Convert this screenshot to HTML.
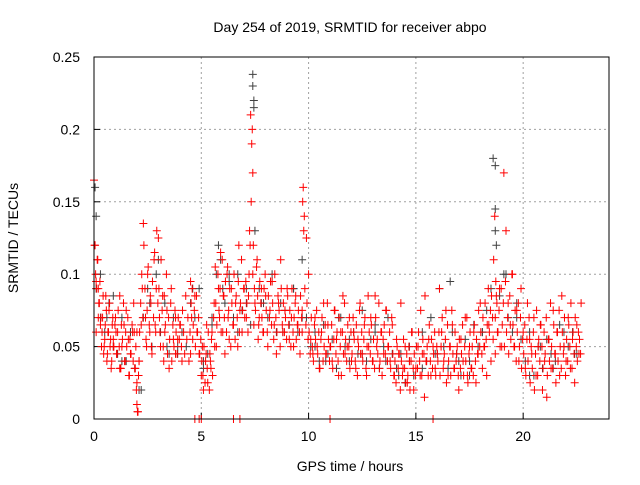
<!DOCTYPE html>
<html><head><meta charset="utf-8"><style>
body{margin:0;background:#fff}
svg text{font-family:"Liberation Sans",sans-serif;font-size:14px;fill:#000}
</style></head><body>
<svg id="chart" width="640" height="480" xmlns="http://www.w3.org/2000/svg">
<text x="350" y="32" text-anchor="middle">Day 254 of 2019, SRMTID for receiver abpo</text>
<text x="350" y="471" text-anchor="middle">GPS time / hours</text>
<text transform="translate(18,238) rotate(-90)" text-anchor="middle">SRMTID / TECUs</text>
<g id="grid"></g><g id="ticks"></g><g id="marks"></g>
<rect x="94" y="57" width="515" height="362" fill="none" stroke="#000" stroke-width="1"/>
</svg>
<script>
const xTicks=[0,5,10,15,20];
const yTicks=[0,0.05,0.1,0.15,0.2,0.25];
const yTickLabels=["0","0.05","0.1","0.15","0.2","0.25"];
const redTimes=[0,0.05,0.1,0.1,0.15,0.2,0.2,0.25,0.3,0.35,0.4,0.45,0.5,0.55,0.6,0.65,0.7,0.75,0.8,0.85,0.9,1.0,1.05,1.1,1.2,1.25,1.3,1.4,1.45,1.5,1.6,1.65,1.7,1.8,1.85,1.9,1.95,2.0,2.0,2.05,2.1,2.2,2.25,2.3,2.4,2.45,2.5,2.6,2.65,2.7,2.8,2.85,2.9,3.0,3.05,3.1,3.2,3.25,3.3,3.4,3.5,3.6,3.7,3.8,4.0,4.1,4.5,4.55,4.6,4.7,4.8,4.9,5.0,5.05,5.1,5.2,5.25,5.3,5.4,5.45,5.5,5.6,5.65,5.7,5.8,5.85,5.9,6.0,6.05,6.1,6.2,6.25,6.3,6.4,6.5,6.6,6.7,6.75,6.8,6.9,7.0,7.1,7.2,7.25,7.3,7.35,7.4,7.4,7.45,7.5,7.6,7.65,7.7,7.8,7.9,8.0,8.1,8.2,8.3,8.4,8.5,8.6,8.7,8.8,8.9,9.0,9.1,9.2,9.3,9.4,9.5,9.6,9.7,9.7,9.75,9.8,9.9,10.0,10.1,10.2,10.3,10.4,10.5,10.6,10.7,10.8,10.9,11.0,11.1,11.2,11.3,11.4,11.5,11.6,11.7,11.8,11.9,12.0,12.1,12.2,12.3,12.4,12.5,12.6,12.7,12.8,12.9,13.0,13.1,13.2,13.3,13.4,13.5,13.6,13.7,13.8,13.9,14.0,14.1,14.2,14.3,14.4,14.5,14.6,14.7,14.8,14.9,15.0,15.1,15.2,15.3,15.4,15.5,15.6,15.7,15.8,15.9,16.0,16.1,16.2,16.3,16.4,16.5,16.6,16.7,16.8,16.9,17.0,17.1,17.2,17.3,17.4,17.5,17.6,17.7,17.8,17.9,18.0,18.1,18.2,18.3,18.4,18.5,18.6,18.7,18.7,18.75,18.8,18.9,19.0,19.1,19.2,19.3,19.4,19.5,19.6,19.7,19.8,19.9,20.0,20.1,20.2,20.3,20.4,20.5,20.6,20.7,20.8,20.9,21.0,21.1,21.2,21.3,21.4,21.5,21.6,21.7,21.8,21.9,22.0,22.1,22.2,22.3,22.4,22.5,22.6,22.7,
0.9,1.2,2.0,2.1,3.8,3.9,4.5,4.7,4.9,5.0,6.5,6.8,11.0,15.8];
const redValues=[0.165,0.12,0.095,0.06,0.11,0.09,0.07,0.08,0.065,0.05,0.07,0.045,0.055,0.085,0.04,0.06,0.075,0.05,0.035,0.065,0.055,0.07,0.045,0.06,0.085,0.035,0.05,0.065,0.04,0.075,0.055,0.03,0.045,0.06,0.08,0.035,0.05,0.01,0.025,0.005,0.04,0.065,0.09,0.135,0.07,0.05,0.1,0.06,0.08,0.045,0.11,0.065,0.09,0.125,0.07,0.05,0.085,0.04,0.06,0.075,0.035,0.09,0.055,0.045,0.065,0.04,0.095,0.07,0.055,0.085,0.06,0.045,0.03,0.05,0.02,0.04,0.065,0.025,0.045,0.035,0.06,0.08,0.105,0.05,0.09,0.07,0.115,0.06,0.085,0.045,0.1,0.07,0.055,0.09,0.065,0.08,0.05,0.12,0.075,0.06,0.09,0.07,0.085,0.13,0.21,0.19,0.17,0.1,0.065,0.08,0.11,0.055,0.07,0.09,0.06,0.085,0.05,0.075,0.095,0.065,0.045,0.08,0.11,0.06,0.075,0.09,0.055,0.07,0.05,0.085,0.065,0.045,0.075,0.06,0.16,0.14,0.125,0.1,0.055,0.045,0.07,0.05,0.035,0.06,0.08,0.045,0.065,0.05,0.04,0.075,0.055,0.03,0.06,0.085,0.045,0.05,0.07,0.04,0.06,0.035,0.055,0.08,0.045,0.065,0.03,0.05,0.07,0.04,0.085,0.055,0.035,0.06,0.045,0.075,0.05,0.04,0.065,0.03,0.055,0.045,0.08,0.035,0.05,0.025,0.04,0.06,0.02,0.035,0.05,0.03,0.045,0.015,0.04,0.055,0.03,0.05,0.035,0.045,0.09,0.06,0.04,0.075,0.03,0.05,0.065,0.035,0.045,0.02,0.055,0.04,0.07,0.03,0.05,0.035,0.06,0.025,0.045,0.08,0.035,0.05,0.03,0.065,0.04,0.055,0.07,0.045,0.085,0.06,0.09,0.05,0.17,0.13,0.08,0.065,0.1,0.05,0.075,0.04,0.09,0.06,0.035,0.08,0.055,0.045,0.07,0.03,0.05,0.065,0.02,0.04,0.015,0.055,0.035,0.075,0.045,0.06,0.03,0.085,0.05,0.04,0.07,0.035,0.055,0.025,0.065,0.045,0.08,0.05,0.035,0.06,0.04,0.07,0.055,0.045,
0,0,0,0,0,0,0,0,0,0,0,0,0,0];
// second, denser red batch sampled every 0.05 h from 0.025 h
const red2Start=0.025, red2Step=0.05;
const red2Values=[
0.12,0.1,0.09,0.11,0.08,0.095,0.07,0.06,0.085,0.05,0.065,0.075,0.045,0.06,0.08,0.055,0.04,0.07,0.05,0.065,
0.06,0.045,0.075,0.05,0.035,0.065,0.055,0.08,0.04,0.06,0.05,0.07,0.03,0.055,0.045,0.065,0.04,0.06,0.035,0.02,
0.005,0.03,0.06,0.08,0.1,0.07,0.12,0.09,0.055,0.075,0.105,0.065,0.085,0.05,0.095,0.07,0.115,0.06,0.13,0.08,
0.09,0.06,0.11,0.075,0.05,0.085,0.065,0.1,0.045,0.07,0.055,0.08,0.04,0.065,0.05,0.075,0.06,0.045,0.07,0.055,
0.065,0.05,0.075,0.06,0.045,0.085,0.055,0.07,0.04,0.06,0.08,0.09,0.065,0.075,0.05,0.085,0.06,0.07,0.045,0.055,
0.04,0.03,0.05,0.025,0.045,0.035,0.06,0.02,0.04,0.055,0.03,0.07,0.05,0.08,0.065,0.1,0.075,0.09,0.06,0.11,
0.085,0.07,0.095,0.06,0.105,0.075,0.09,0.05,0.08,0.065,0.1,0.055,0.085,0.07,0.095,0.06,0.08,0.11,0.075,0.09,
0.07,0.095,0.08,0.06,0.1,0.12,0.15,0.2,0.12,0.09,0.075,0.105,0.085,0.065,0.095,0.08,0.07,0.06,0.09,0.1,
0.075,0.06,0.085,0.07,0.095,0.065,0.08,0.055,0.1,0.07,0.06,0.085,0.075,0.05,0.09,0.065,0.08,0.06,0.07,0.055,
0.085,0.065,0.075,0.05,0.09,0.06,0.07,0.08,0.055,0.065,0.075,0.06,0.085,0.07,0.15,0.13,0.09,0.065,0.08,0.055,
0.06,0.045,0.07,0.05,0.04,0.065,0.055,0.075,0.045,0.06,0.035,0.055,0.07,0.04,0.05,0.065,0.045,0.08,0.055,0.04,
0.05,0.065,0.035,0.055,0.075,0.045,0.06,0.04,0.07,0.05,0.03,0.06,0.045,0.08,0.055,0.04,0.065,0.05,0.035,0.06,
0.045,0.07,0.055,0.04,0.065,0.03,0.05,0.075,0.045,0.06,0.04,0.055,0.07,0.035,0.05,0.085,0.06,0.045,0.065,0.04,
0.055,0.035,0.07,0.05,0.045,0.08,0.04,0.06,0.03,0.055,0.065,0.045,0.075,0.04,0.05,0.06,0.035,0.07,0.045,0.03,
0.04,0.025,0.05,0.035,0.045,0.02,0.04,0.03,0.055,0.035,0.025,0.045,0.03,0.05,0.02,0.04,0.06,0.035,0.045,0.03,
0.05,0.035,0.06,0.04,0.075,0.03,0.055,0.045,0.085,0.04,0.05,0.03,0.065,0.04,0.055,0.035,0.045,0.06,0.03,0.05,
0.04,0.06,0.03,0.05,0.07,0.035,0.045,0.055,0.025,0.065,0.04,0.05,0.03,0.075,0.045,0.035,0.06,0.04,0.05,0.03,
0.055,0.035,0.045,0.065,0.03,0.05,0.04,0.07,0.025,0.045,0.06,0.035,0.05,0.03,0.065,0.04,0.055,0.045,0.075,0.05,
0.06,0.045,0.07,0.05,0.08,0.055,0.065,0.09,0.06,0.075,0.085,0.07,0.11,0.14,0.095,0.08,0.06,0.075,0.05,0.09,
0.065,0.08,0.05,0.095,0.06,0.07,0.045,0.085,0.055,0.1,0.065,0.05,0.075,0.04,0.06,0.08,0.05,0.07,0.035,0.055,
0.045,0.065,0.03,0.055,0.04,0.07,0.025,0.05,0.035,0.06,0.02,0.045,0.075,0.03,0.055,0.04,0.065,0.05,0.035,0.06,
0.045,0.07,0.03,0.055,0.04,0.08,0.05,0.035,0.065,0.045,0.025,0.06,0.04,0.075,0.05,0.035,0.06,0.045,0.07,0.03,
0.055,0.04,0.065,0.05,0.08,0.035,0.06,0.045,0.07,0.05,0.04,0.06,0.055,0.045];
const grayTimes=[0.05,0.1,0.3,0.6,0.9,1.3,1.7,2.2,2.6,3.0,3.4,3.9,4.6,5.1,5.5,5.8,6.0,6.3,6.7,7.1,7.4,7.4,7.45,7.45,7.8,8.3,8.8,9.3,9.7,10.3,10.8,11.4,11.9,12.5,13.1,13.6,14.2,14.7,15.3,16.0,16.6,17.0,17.5,18.1,18.6,18.7,18.7,18.75,19.2,19.7,20.3,20.8,21.4,21.9,22.4];
const grayValues=[0.16,0.14,0.1,0.07,0.085,0.04,0.06,0.02,0.08,0.11,0.05,0.045,0.09,0.04,0.07,0.12,0.09,0.1,0.06,0.08,0.238,0.23,0.22,0.215,0.08,0.1,0.06,0.09,0.07,0.05,0.04,0.07,0.055,0.045,0.06,0.04,0.03,0.05,0.035,0.045,0.095,0.04,0.03,0.06,0.18,0.175,0.145,0.12,0.1,0.07,0.03,0.05,0.035,0.06,0.045];
// second gray batch sampled every 0.2 h from 0.1 h
const gray2Start=0.1, gray2Step=0.2;
const gray2Values=[0.09,0.07,0.06,0.08,0.05,0.045,0.07,0.04,0.06,0.035,
0.02,0.07,0.09,0.05,0.1,0.06,0.08,0.045,0.07,0.05,
0.06,0.05,0.08,0.07,0.09,0.035,0.045,0.065,0.1,0.11,
0.08,0.095,0.07,0.1,0.075,0.09,0.065,0.13,0.09,0.08,
0.07,0.095,0.06,0.08,0.075,0.065,0.09,0.06,0.11,0.07,
0.05,0.06,0.04,0.065,0.045,0.055,0.035,0.07,0.05,0.04,
0.06,0.045,0.075,0.04,0.055,0.065,0.035,0.05,0.07,0.045,
0.035,0.045,0.025,0.04,0.03,0.05,0.06,0.04,0.07,0.045,
0.09,0.05,0.035,0.06,0.045,0.03,0.055,0.04,0.065,0.05,
0.06,0.075,0.09,0.13,0.085,0.1,0.07,0.06,0.08,0.055,
0.04,0.06,0.03,0.05,0.035,0.055,0.045,0.04,0.065,0.05,
0.05,0.06,0.045];
const X0=94,X1=609,Y0=419,Y1=57;
const xs=t=>X0+(t/24)*(X1-X0);
const ys=v=>Y0-(v/0.25)*(Y0-Y1);
const NS="http://www.w3.org/2000/svg";
const grid=document.getElementById('grid'),ticks=document.getElementById('ticks'),marks=document.getElementById('marks');
function mk(tag,attrs,parent){const e=document.createElementNS(NS,tag);for(const k in attrs)e.setAttribute(k,attrs[k]);parent.appendChild(e);return e;}
xTicks.forEach(t=>{const x=xs(t);
 if(t>0){const g=mk('line',{x1:x,x2:x,y1:Y1,y2:Y0,stroke:'#a0a0a0','stroke-dasharray':'2,3'},grid);
 
 }
 mk('line',{x1:x,x2:x,y1:Y0,y2:Y0-6,stroke:'#000'},ticks);
 const l=mk('text',{x:x,y:Y0+22,'text-anchor':'middle'},ticks);l.textContent=t;
 
 });
yTicks.forEach((v,i)=>{const y=ys(v);
 if(v>0&&v<0.25){const g=mk('line',{x1:X0,x2:X1,y1:y,y2:y,stroke:'#a0a0a0','stroke-dasharray':'2,3'},grid);
 
 }
 mk('line',{x1:X0,x2:X0+6,y1:y,y2:y,stroke:'#000'},ticks);
 const l=mk('text',{x:X0-14,y:y+5,'text-anchor':'end'},ticks);l.textContent=yTickLabels[i];
 
 });
function plus(t,v,color,name){const x=xs(t),y=ys(v);
 const p=mk('path',{d:`M${x-4},${y}H${x+4}M${x},${y-4}V${y+4}`,stroke:color,'stroke-width':1,fill:'none'},marks);
 
 }
grayTimes.forEach((t,i)=>plus(t,grayValues[i],'#404040','gray-point'));
gray2Values.forEach((v,i)=>plus(gray2Start+i*gray2Step,v,'#404040','gray-point'));
redTimes.forEach((t,i)=>plus(t,redValues[i],'#ff0000','red-point'));
red2Values.forEach((v,i)=>plus(red2Start+i*red2Step,v,'#ff0000','red-point'));
</script>
</body></html>
